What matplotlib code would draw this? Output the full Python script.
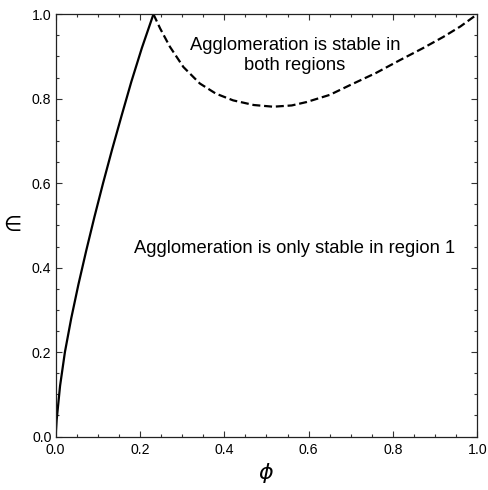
import matplotlib
matplotlib.use("Agg")
from matplotlib import pyplot as plt
from matplotlib.ticker import MultipleLocator

# boundary of region 1 (solid)
phi_solid = [0.0, 0.0025, 0.0105, 0.022, 0.037, 0.054, 0.0725, 0.092, 0.1125,
             0.134, 0.1565, 0.1795, 0.2045, 0.232]
eps_solid = [0.0, 0.04, 0.12, 0.2, 0.28, 0.36, 0.44, 0.52, 0.6,
             0.68, 0.76, 0.84, 0.92, 1.0]

# boundary of region 2 (dashed)
phi_dash = [0.232, 0.248, 0.271, 0.303, 0.342, 0.38, 0.421, 0.47, 0.516, 0.56, 0.595,
            0.65, 0.698, 0.76, 0.816, 0.87, 0.919, 0.96, 1.0]
eps_dash = [1.0, 0.966, 0.923, 0.875, 0.836, 0.812, 0.796, 0.785, 0.781, 0.784, 0.792,
            0.809, 0.832, 0.861, 0.891, 0.919, 0.946, 0.971, 1.0]

label_top = "Agglomeration is stable in\nboth regions"
label_mid = "Agglomeration is only stable in region 1"

plt.rcParams['font.family'] = ['Liberation Sans', 'DejaVu Sans']

fig = plt.figure(figsize=(4.88, 4.90), dpi=100)
ax = fig.add_axes([0.114, 0.109, 0.864, 0.862])

ax.plot(phi_solid, eps_solid, color='black', linewidth=1.6, solid_joinstyle='round')
ax.plot(phi_dash, eps_dash, color='black', linewidth=1.6, linestyle=(0, (3.6, 1.7)))

ax.text(0.568, 0.903, label_top, ha='center', va='center', fontsize=13.2, linespacing=1.25)
ax.text(0.567, 0.446, label_mid, ha='center', va='center', fontsize=13.2)

ax.set_xlim(0, 1)
ax.set_ylim(0, 1)
ax.xaxis.set_major_locator(MultipleLocator(0.2))
ax.xaxis.set_minor_locator(MultipleLocator(0.05))
ax.yaxis.set_major_locator(MultipleLocator(0.2))
ax.yaxis.set_minor_locator(MultipleLocator(0.05))
ax.tick_params(which='both', direction='in', top=True, right=True, width=0.8, colors='#333333',
               labelcolor='black')
ax.tick_params(which='major', length=4, labelsize=10.2)
ax.tick_params(which='minor', length=2.5)
ax.tick_params(axis='x', pad=4.5)
ax.tick_params(axis='y', pad=3)
for s in ax.spines.values():
    s.set_linewidth(0.9)
    s.set_color('#222222')

ax.set_xlabel(r'$\phi$', fontsize=16, labelpad=3)
ax.set_ylabel('\u2208', fontsize=15, labelpad=14, family=['DejaVu Sans'], rotation=0, va='center')

fig.savefig("out.png", dpi=100)
